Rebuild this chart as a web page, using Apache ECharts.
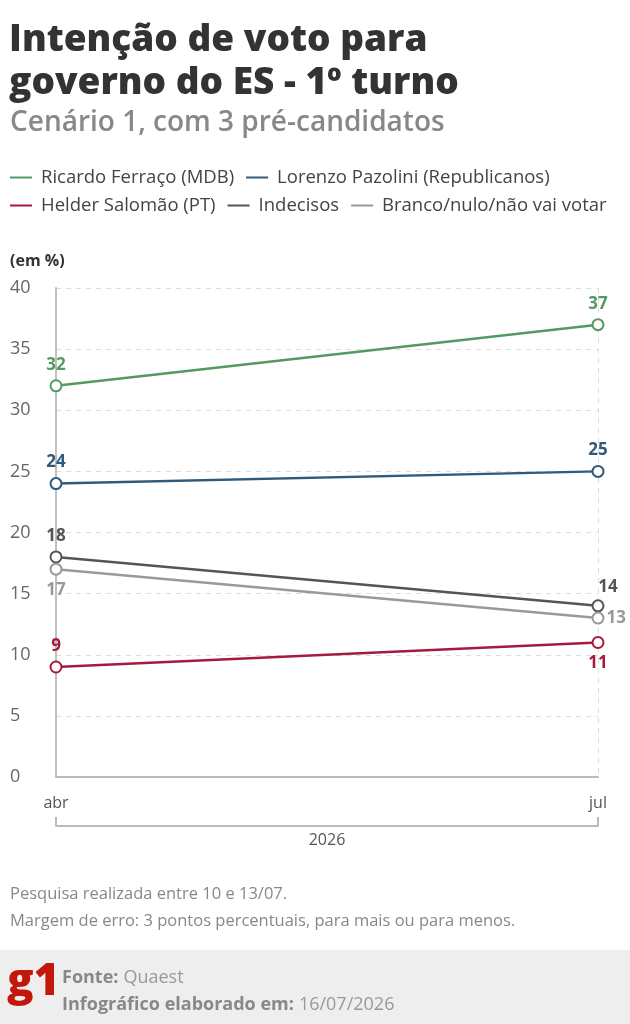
<!DOCTYPE html>
<html>
<head>
<meta charset="utf-8">
<script src="https://cdn.jsdelivr.net/npm/echarts@6/dist/echarts.min.js"></script>
<style>
  html, body { margin: 0; padding: 0; background: #fff; }
  #chart { width: 630px; height: 1024px; }
</style>
</head>
<body>
<div id="chart"></div>
<script>
// dados do gráfico
const months = ['abr', 'jul'];
const yearLabel = '2026';
const seriesNames = [
    'Ricardo Ferraço (MDB)',
    'Lorenzo Pazolini (Republicanos)',
    'Helder Salomão (PT)',
    'Indecisos',
    'Branco/nulo/não vai votar'
];
const ferraco = [32, 37];
const pazolini = [24, 25];
const salomao = [9, 11];
const indecisos = [18, 14];
const branco = [17, 13];
const yTicks = [0, 5, 10, 15, 20, 25, 30, 35, 40];

// estilos por série
const colors = ['#529a62', '#2f5a7c', '#a61b3d', '#555555', '#999999'];
const labelPos = [
    ['top', 'top'],
    ['top', 'top'],
    ['top', 'bottom'],
    ['top', 'top'],
    ['bottom', 'right']
];
const labelOffset = [
    [[0, 0], [0, 0]],
    [[0, 0], [0, 0]],
    [[0, 0], [0, 0]],
    [[0, 0], [10, 2]],
    [[0, 0], [-4, 0]]
];

const FONT = 'Open Sans';
const chart = echarts.init(document.getElementById('chart'));

function buildSeries(name, values, i) {
    return {
        name: name,
        type: 'line',
        data: values.map((v, j) => ({
            value: v,
            label: { position: labelPos[i][j], offset: labelOffset[i][j] }
        })),
        symbol: 'emptyCircle',
        symbolSize: 11,
        lineStyle: { color: colors[i], width: 2.5 },
        itemStyle: { color: colors[i], borderWidth: 2.2 },
        label: {
            show: true,
            color: colors[i],
            fontFamily: FONT,
            fontWeight: 'bold',
            fontSize: 17,
            distance: 6
        },
        emphasis: { disabled: true },
        animation: false
    };
}

const allValues = [ferraco, pazolini, salomao, indecisos, branco];

const option = {
    backgroundColor: '#fff',
    title: [
        {
            text: 'Intenção de voto para\ngoverno do ES - 1º turno',
            left: 4, top: 14,
            textStyle: { fontFamily: FONT, fontSize: 37, fontWeight: 800, color: '#333', lineHeight: 43 }
        },
        {
            text: 'Cenário 1, com 3 pré-candidatos',
            left: 5, top: 104,
            textStyle: { fontFamily: FONT, fontSize: 28, fontWeight: 600, color: '#888' }
        },
        {
            text: '(em %)',
            left: 5, top: 248,
            textStyle: { fontFamily: FONT, fontSize: 16, fontWeight: 'bold', color: '#333' }
        },
        {
            text: 'Pesquisa realizada entre 10 e 13/07.\nMargem de erro: 3 pontos percentuais, para mais ou para menos.',
            left: 5, top: 876,
            textStyle: { fontFamily: FONT, fontSize: 16.5, fontWeight: 'normal', color: '#888', lineHeight: 27 }
        },
        {
            text: '{b|Fonte:} {r|Quaest}\n{b|Infográfico elaborado em:} {r|16/07/2026}',
            left: 57, top: 959,
            textStyle: {
                lineHeight: 27,
                rich: {
                    b: { fontFamily: FONT, fontSize: 18, fontWeight: 'bold', color: '#888', lineHeight: 27 },
                    r: { fontFamily: FONT, fontSize: 18, fontWeight: 'normal', color: '#999', lineHeight: 27 }
                }
            }
        }
    ],
    graphic: [
        {
            type: 'rect', z: -1,
            shape: { x: 0, y: 950, width: 630, height: 74 },
            style: { fill: '#eeeeee' }
        },
        {
            type: 'text', left: 7, top: 960,
            style: { text: 'g1', fill: '#c4170c', font: '800 44px "Open Sans"' }
        }
    ],
    legend: [
        {
            data: seriesNames.slice(0, 2),
            left: 5, top: 163,
            icon: 'rect', itemWidth: 22, itemHeight: 2, itemGap: 12,
            textStyle: { fontFamily: FONT, fontSize: 18.5, color: '#444', padding: [0, 0, 0, 4] },
            selectedMode: false
        },
        {
            data: seriesNames.slice(2),
            left: 5, top: 191,
            icon: 'rect', itemWidth: 22, itemHeight: 2, itemGap: 12,
            textStyle: { fontFamily: FONT, fontSize: 18.5, color: '#444', padding: [0, 0, 0, 4] },
            selectedMode: false
        }
    ],
    grid: { left: 56, right: 32, top: 288, bottom: 247, containLabel: false },
    xAxis: [
        {
            type: 'category',
            data: months,
            boundaryGap: false,
            axisLine: { show: true, lineStyle: { color: '#bbbbbb', width: 2 } },
            axisTick: { show: false },
            axisLabel: { color: '#555', fontFamily: FONT, fontSize: 16, margin: 18 },
            splitLine: { show: true, lineStyle: { color: '#dddddd', type: [5, 5], width: 1 } }
        },
        {
            type: 'value',
            min: 0, max: 1, interval: 1,
            position: 'bottom',
            offset: 49,
            axisLine: { show: true, lineStyle: { color: '#bbbbbb', width: 2 } },
            axisTick: { show: true, inside: true, length: 9, lineStyle: { color: '#bbbbbb', width: 2 } },
            axisLabel: { show: false },
            splitLine: { show: false },
            name: yearLabel,
            nameLocation: 'middle',
            nameGap: 6,
            nameTextStyle: { color: '#555', fontFamily: FONT, fontSize: 16 }
        }
    ],
    yAxis: {
        type: 'value',
        min: yTicks[0],
        max: yTicks[yTicks.length - 1],
        interval: 5,
        axisLine: { show: true, lineStyle: { color: '#c0c0c0', width: 2 } },
        axisTick: { show: false },
        axisLabel: { color: '#666', fontFamily: FONT, fontSize: 18, align: 'left', margin: 46 },
        splitLine: { show: true, lineStyle: { color: '#dddddd', type: [5, 5], width: 1 } }
    },
    series: seriesNames.map((n, i) => buildSeries(n, allValues[i], i))
};

chart.setOption(option);
</script>
</body>
</html>
